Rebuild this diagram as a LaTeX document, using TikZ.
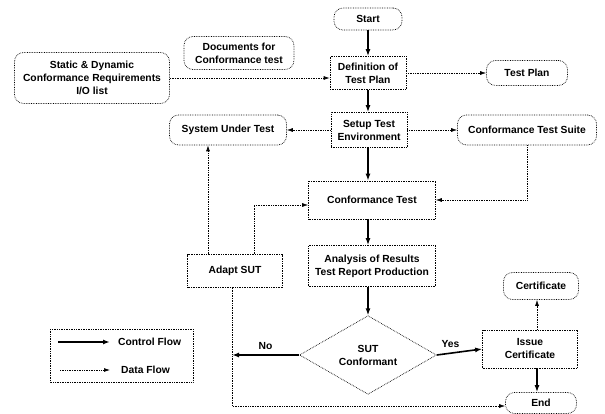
\documentclass[tikz,border=0pt]{standalone}
\usepackage{fontspec}
\setmainfont{Liberation Sans}
\usetikzlibrary{shapes.geometric,arrows.meta}
\begin{document}
\begin{tikzpicture}[x=1pt,y=-1pt,
		every node/.style={font=\bfseries\fontsize{10.3}{13}\selectfont, align=center, inner sep=1pt},
		term/.style={draw, densely dotted, line width=0.7pt, rounded corners=9pt},
		proc/.style={draw, densely dotted, line width=0.7pt},
		decision/.style={draw, densely dotted, line width=0.7pt, diamond, inner sep=0pt},
		ctrl/.style={-{Latex[length=7pt,width=5pt]}, line width=1.6pt},
		data/.style={densely dotted, -{Latex[length=6pt,width=4pt]}, line width=0.7pt}]
		\useasboundingbox ( 0, 0 ) rectangle ( 605, 414 );

		% terminals and documents
		\node [term, minimum width=68, minimum height=22] (start) at ( 368, 19 ) {Start};
		\node [term, minimum width=81, minimum height=25] (plan) at ( 527, 73 ) {Test Plan};
		\node [term, minimum width=155, minimum height=51] (reqs) at ( 92, 78 ) {Static \& Dynamic\\Conformance Requirements\\I/O list};
		\node [term, minimum width=110, minimum height=33] (docs) at ( 239, 53 ) {Documents for\\Conformance test};
		\node [term, minimum width=117, minimum height=30] (sut) at ( 228, 130 ) {System Under Test};
		\node [term, minimum width=139, minimum height=30] (suite) at ( 527, 130 ) {Conformance Test Suite};
		\node [term, minimum width=75, minimum height=27] (cert) at ( 541, 286 ) {Certificate};
		\node [term, minimum width=71, minimum height=21] (end) at ( 541, 403 ) {End};

		% processes
		\node [proc, minimum width=76, minimum height=33] (def) at ( 368, 73 ) {Definition of\\Test Plan};
		\node [proc, minimum width=76, minimum height=35] (setup) at ( 369, 130 ) {Setup Test\\Environment};
		\node [proc, minimum width=127, minimum height=38] (test) at ( 372, 200 ) {Conformance Test};
		\node [proc, minimum width=127, minimum height=41] (report) at ( 372, 266 ) {Analysis of Results\\Test Report Production};
		\node [proc, minimum width=95, minimum height=33] (adapt) at ( 235, 271 ) {Adapt SUT};
		\node [proc, minimum width=95, minimum height=38] (issue) at ( 530, 349 ) {Issue\\Certificate};
		\node [decision, minimum width=137, minimum height=52] (ok) at ( 368, 355 ) {SUT\\Conformant};

		% control flow
		\coordinate (main) at ( 368, 0 );
		\draw [ctrl] (start.south -| main) -- (def.north -| main);
		\draw [ctrl] (def.south -| main) -- (setup.north -| main);
		\draw [ctrl] (setup.south -| main) -- (test.north -| main);
		\draw [ctrl] (test.south -| main) -- (report.north -| main);
		\draw [ctrl] (report.south -| main) -- (ok.north);
		\coordinate (nojoin) at ( 232, 355 );
		\draw [ctrl] (ok.west) -- node [above=4pt] {No} (nojoin);
		\draw [ctrl] (ok.east) -- node [above=4pt, pos=0.3] {Yes} (issue.west);
		\coordinate (col) at ( 537, 0 );
		\draw [ctrl] (issue.south -| col) -- (end.north -| col);

		% data flow
		\draw [data] (reqs.east) -- (reqs.east -| def.west);
		\draw [data] (def) -- (plan);
		\draw [data] (setup) -- (sut);
		\draw [data] (setup) -- (suite);
		\draw [data] (suite.south) |- (test.east);
		\draw [data] ([xshift=-27pt]adapt.north) -- ([xshift=-27pt]adapt.north |- sut.south);
		\draw [data] ([xshift=19pt]adapt.north) |- ([yshift=-5pt]test.west);
		\draw [data] (issue.north -| col) -- (cert.south -| col);
		\draw [data] ([xshift=-3pt]adapt.south) |- ([yshift=-3pt]end.west);

		% legend
		\draw [densely dotted, line width=0.7pt] ( 50, 329 ) rectangle ( 193, 382 );
		\coordinate (c1) at ( 58, 342 );
		\coordinate (c2) at ( 110, 342 );
		\coordinate (d1) at ( 60, 370 );
		\coordinate (d2) at ( 110, 370 );
		\draw [ctrl] (c1) -- (c2);
		\draw [data] (d1) -- (d2);
		\node [anchor=west] (ctrltext) at ( 117, 342 ) {Control Flow};
		\node [anchor=west] (datatext) at ( 120, 370 ) {Data Flow};
	\end{tikzpicture}
\end{document}
